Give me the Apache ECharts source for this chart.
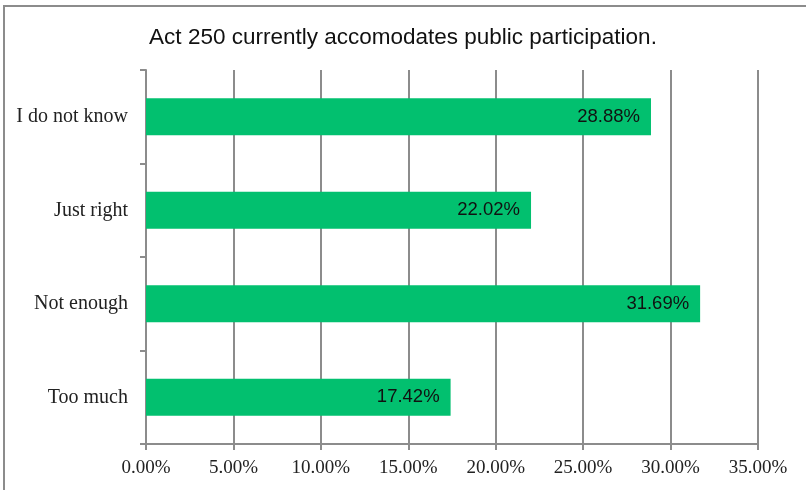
<!DOCTYPE html>
<html>
<head>
<meta charset="utf-8">
<script src="https://cdn.jsdelivr.net/npm/echarts@6/dist/echarts.min.js"></script>
<style>
html,body{margin:0;padding:0;background:#fff;}
#c{width:806px;height:490px;}
</style>
</head>
<body>
<div id="c"></div>
<script>
const titleText = 'Act 250 currently accomodates public participation.';
const categories = ['I do not know', 'Just right', 'Not enough', 'Too much'];
const values = [28.88, 22.02, 31.69, 17.42];
const xTicks = [0, 5, 10, 15, 20, 25, 30, 35];

const chart = echarts.init(document.getElementById('c'), null, {renderer: 'canvas'});
const gray = '#8c8c8c';
chart.setOption({
  animation: false,
  backgroundColor: '#fff',
  title: {
    text: titleText,
    left: 'center',
    top: 21,
    textStyle: {fontFamily: 'Liberation Sans', fontSize: 22.5, fontWeight: 'normal', color: '#111'}
  },
  graphic: [{
    type: 'rect',
    shape: {x: 4, y: 6, width: 900, height: 600},
    style: {fill: 'none', stroke: gray, lineWidth: 2},
    silent: true
  }],
  grid: {left: 146, right: 48, top: 70, bottom: 46, containLabel: false},
  xAxis: {
    type: 'value',
    min: xTicks[0],
    max: xTicks[xTicks.length - 1],
    interval: 5,
    axisLine: {show: true, lineStyle: {color: gray, width: 2}},
    axisTick: {show: true, length: 6, lineStyle: {color: gray, width: 2}},
    splitLine: {show: true, lineStyle: {color: gray, width: 2}},
    axisLabel: {
      margin: 15,
      fontFamily: 'Liberation Serif',
      fontSize: 19,
      color: '#222',
      formatter: v => v.toFixed(2) + '%'
    }
  },
  yAxis: {
    type: 'category',
    data: categories,
    inverse: true,
    axisLine: {show: true, lineStyle: {color: gray, width: 2}},
    axisTick: {show: true, length: 6, lineStyle: {color: gray, width: 2}},
    splitLine: {show: false},
    axisLabel: {
      margin: 18,
      fontFamily: 'Liberation Serif',
      fontSize: 20,
      color: '#222'
    }
  },
  series: [{
    type: 'bar',
    data: values,
    barWidth: 37,
    itemStyle: {color: '#02C06F'},
    label: {
      show: true,
      position: 'insideRight',
      distance: 11,
      fontFamily: 'Liberation Sans',
      fontSize: 18.5,
      color: '#111',
      formatter: p => p.value.toFixed(2) + '%'
    }
  }]
});
</script>
</body>
</html>
